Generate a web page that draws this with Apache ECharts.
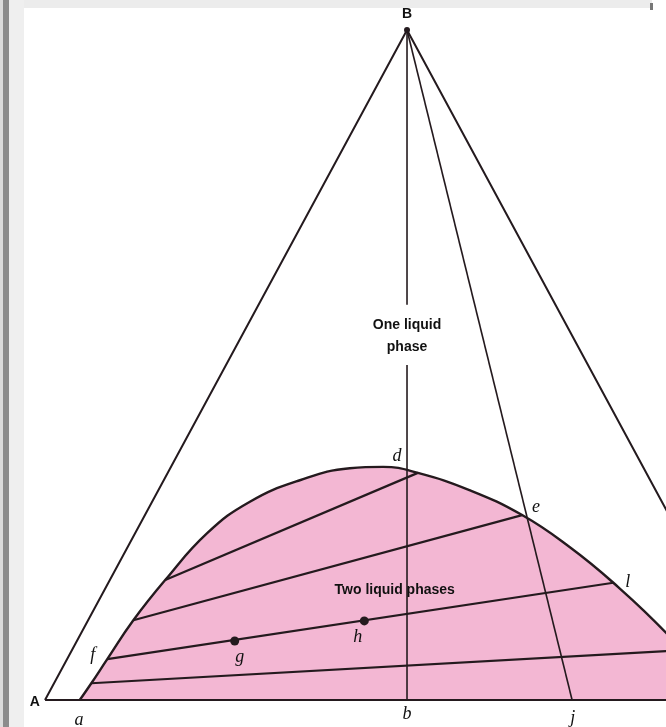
<!DOCTYPE html>
<html>
<head>
<meta charset="utf-8">
<script src="https://cdn.jsdelivr.net/npm/echarts@6/dist/echarts.min.js"></script>
<style>
html,body{margin:0;padding:0;background:#fff;}
#chart{width:666px;height:727px;}
</style>
</head>
<body>
<div id="chart"></div>
<script>
// Ternary-style diagram: x = position along base A→C (%), y = fraction of B (%)
const vertexA = [0, 0];
const vertexB = [50, 100];
const vertexC = [100, 0];
const pointB_b = [50, 0];      // b, foot of vertical from B
const pointJ = [72.8, 0];      // j, foot of line from B through e
const verticalGap = [59.0, 50.0]; // vertical line interrupted for the label
const visibleBaseMax = 85.77;  // part of the base that fits in the picture

// Binodal (solubility) curve, a → d → e → l → base
const binodalX = [4.8, 6.4, 8.6, 12.2, 16.6, 22.4, 28.3, 35.2, 42.1, 46.7, 51.5, 58.7, 65.9, 72.5, 78.5, 85.8, 90.0, 93.2];
const binodalY = [0, 2.5, 6.1, 11.9, 17.9, 24.9, 29.6, 32.8, 34.6, 34.8, 33.9, 31.3, 27.6, 22.8, 17.5, 10.0, 4.5, 0];

// Tie lines: [x1, y1, x2, y2]
const tieLines = [
  [6.4, 2.5, 87.7, 7.4],
  [8.6, 6.1, 78.5, 17.5],
  [12.2, 11.9, 65.9, 27.6],
  [16.6, 17.9, 51.5, 33.9]
];

// Mixture points on tie line f–l
const mixNames = ['g', 'h'];
const mixX = [26.2, 44.1];
const mixY = [8.8, 11.8];

// Annotation texts and anchors
const letterLabels = [
  ['a', 4.7, -3.0], ['b', 50.0, -2.1], ['j', 72.9, -2.7],
  ['d', 48.6, 36.4], ['e', 67.8, 28.7], ['l', 80.5, 17.6],
  ['f', 6.6, 6.7], ['g', 26.9, 6.4], ['h', 43.2, 9.3]
];
const vertexLabels = [['A', -1.4, -0.3], ['B', 50.0, 102.4]];
const regionLabels = [['One liquid\nphase', 50.0, 54.3], ['Two liquid phases', 48.3, 16.4]];

const INK = '#241a1e';
const PINK = '#f3b7d3';

const chart = echarts.init(document.getElementById('chart'), null, {renderer: 'canvas'});

function seg(p, q, w) {
  return {
    type: 'line', data: [p, q], showSymbol: false, symbol: 'none', silent: true,
    lineStyle: {color: INK, width: w}, z: 3, clip: false
  };
}

const series = [];
// pink two-phase region
series.push({
  type: 'line', data: binodalX.map((x, i) => [x, binodalY[i]]),
  showSymbol: false, symbol: 'none', smooth: 0.45, silent: true, clip: true,
  lineStyle: {color: INK, width: 2.4}, areaStyle: {color: PINK, opacity: 1, origin: 'start'}, z: 2
});
// triangle
series.push({
  type: 'line', data: [vertexA, vertexB, vertexC, vertexA], showSymbol: false, symbol: 'none',
  silent: true, lineStyle: {color: INK, width: 2}, z: 4, clip: false
});
// vertical B–b with gap
series.push(seg(vertexB, [vertexB[0], verticalGap[0]], 1.6));
series.push(seg([vertexB[0], verticalGap[1]], pointB_b, 1.6));
// B–j
series.push(seg(vertexB, pointJ, 1.6));
// tie lines
tieLines.forEach(t => series.push(seg([t[0], t[1]], [t[2], t[3]], 2.2)));
// mixture points
series.push({
  type: 'scatter', data: mixX.map((x, i) => [x, mixY[i], mixNames[i]]),
  symbolSize: 9, itemStyle: {color: INK, opacity: 1}, z: 6, silent: true
});
// apex dot
series.push({
  type: 'scatter', data: [vertexB], symbolSize: 6, itemStyle: {color: INK, opacity: 1}, z: 6, silent: true, clip: false
});

function labelSeries(items, style) {
  return {
    type: 'scatter', symbolSize: 0, clip: false, silent: true, z: 10,
    itemStyle: {opacity: 1},
    data: items.map(it => ({value: [it[1], it[2]], name: it[0]})),
    label: Object.assign({
      show: true, position: [0, 0], align: 'center', verticalAlign: 'middle',
      formatter: p => p.name, color: '#111111', opacity: 1
    }, style)
  };
}
series.push(labelSeries(letterLabels, {fontFamily: 'Liberation Serif', fontStyle: 'italic', fontSize: 18}));
series.push(labelSeries(vertexLabels, {fontFamily: 'Liberation Sans', fontWeight: 'bold', fontSize: 14}));
series.push(labelSeries(regionLabels, {fontFamily: 'Liberation Sans', fontWeight: 'bold', fontSize: 14, lineHeight: 22}));

chart.setOption({
  animation: false,
  backgroundColor: '#ffffff',
  grid: {left: 45, top: 30, right: 0, height: 670},
  xAxis: {type: 'value', min: 0, max: visibleBaseMax, show: false},
  yAxis: {type: 'value', min: 0, max: 100, show: false},
  graphic: [
    {type: 'rect', shape: {x: 0, y: 0, width: 3, height: 727}, style: {fill: '#dcdcdc'}, z: 100},
    {type: 'rect', shape: {x: 3, y: 0, width: 6, height: 727}, style: {fill: '#8c8c8c'}, z: 100},
    {type: 'rect', shape: {x: 9, y: 0, width: 15, height: 727}, style: {fill: '#efefef'}, z: 100},
    {type: 'rect', shape: {x: 24, y: 0, width: 628, height: 8}, style: {fill: '#ececec'}, z: 100},
    {type: 'rect', shape: {x: 650, y: 3, width: 3, height: 7}, style: {fill: '#777777'}, z: 100}
  ],
  series: series
});
</script>
</body>
</html>
